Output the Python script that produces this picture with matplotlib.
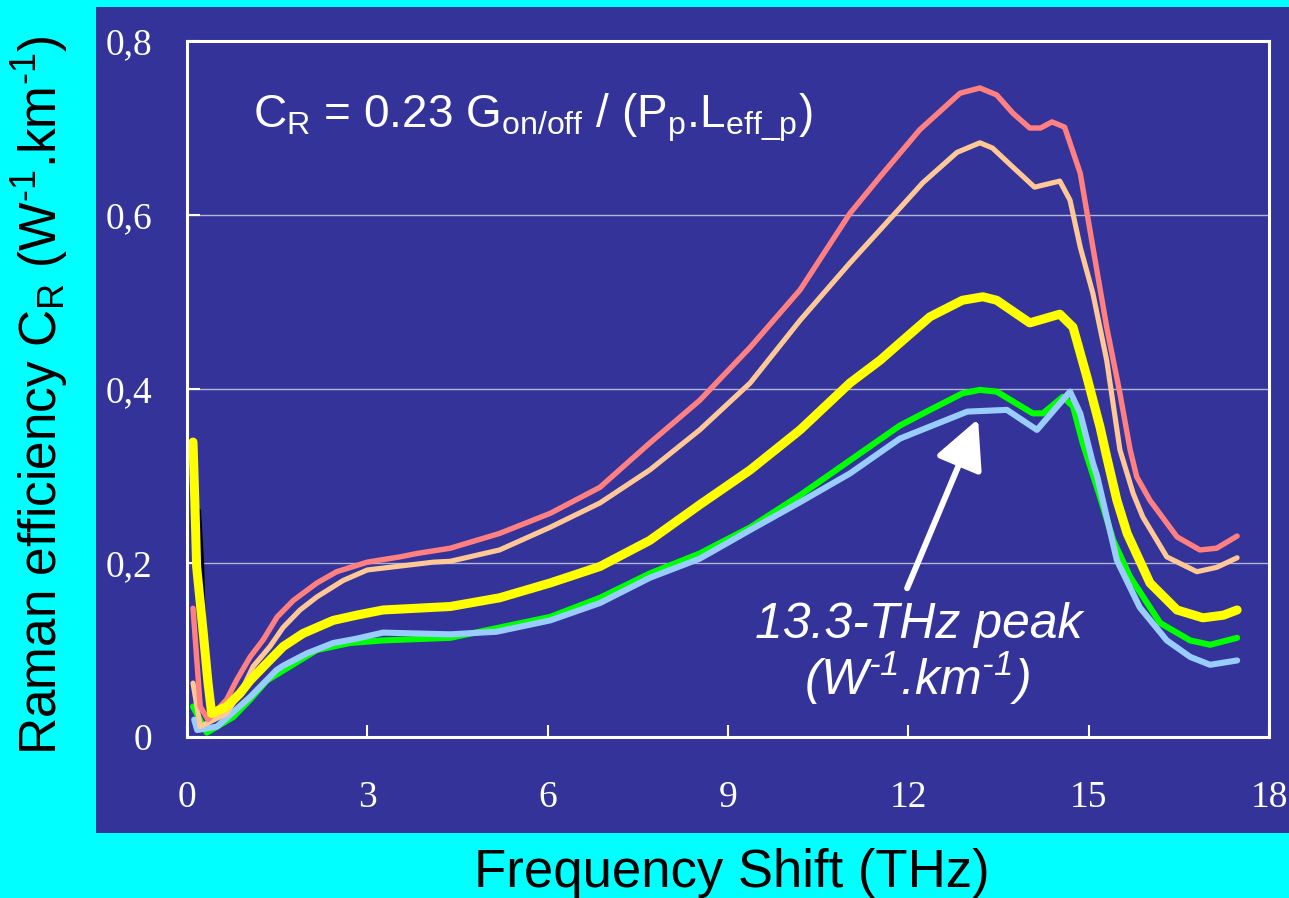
import matplotlib
matplotlib.use('Agg')
import matplotlib.pyplot as plt
from matplotlib.patches import Rectangle

plt.rcParams['font.family'] = ['Liberation Sans', 'DejaVu Sans']
plt.rcParams['mathtext.fontset'] = 'custom'
plt.rcParams['mathtext.rm'] = 'Liberation Sans'
plt.rcParams['mathtext.it'] = 'Liberation Sans:italic'

# valeurs (THz, W-1.km-1)
red_x = [0.10, 0.22, 0.35, 0.66, 0.83, 1.05, 1.27, 1.50, 1.77, 2.16, 2.49, 3.00, 3.54, 3.83,
         4.38, 5.20, 6.04, 6.87, 7.70, 8.53, 9.37, 10.20, 11.03, 11.53, 12.19, 12.86, 13.19,
         13.47, 13.74, 14.02, 14.20, 14.39, 14.60, 14.86, 15.07, 15.30, 15.52, 15.69, 15.80,
         16.02, 16.47, 16.85, 17.13, 17.47]
red_y = [0.148, 0.035, 0.020, 0.043, 0.066, 0.092, 0.112, 0.138, 0.157, 0.177, 0.190, 0.201,
         0.207, 0.211, 0.217, 0.234, 0.257, 0.287, 0.338, 0.387, 0.448, 0.514, 0.602, 0.644,
         0.698, 0.740, 0.746, 0.738, 0.717, 0.700, 0.700, 0.707, 0.701, 0.648, 0.563, 0.471,
         0.395, 0.330, 0.299, 0.272, 0.230, 0.215, 0.217, 0.231]

orange_x = [0.10, 0.22, 0.66, 0.94, 1.10, 1.38, 1.60, 1.88, 2.16, 2.60, 3.00, 4.10, 4.38, 5.20,
            6.04, 6.87, 7.70, 8.53, 9.37, 10.20, 11.03, 11.86, 12.24, 12.81, 13.19, 13.40,
            13.74, 14.10, 14.52, 14.69, 14.86, 15.07, 15.30, 15.52, 15.74, 15.90, 16.30, 16.80,
            17.13, 17.47]
orange_y = [0.062, 0.012, 0.027, 0.058, 0.081, 0.104, 0.126, 0.146, 0.161, 0.180, 0.192, 0.201,
            0.202, 0.215, 0.241, 0.269, 0.307, 0.353, 0.407, 0.479, 0.545, 0.608, 0.637, 0.672,
            0.683, 0.677, 0.655, 0.632, 0.639, 0.617, 0.563, 0.510, 0.433, 0.330, 0.280, 0.253,
            0.207, 0.190, 0.195, 0.206]

yellow_x = [0.10, 0.13, 0.16, 0.27, 0.35, 0.41, 0.66, 0.88, 1.05, 1.33, 1.60, 1.93, 2.43, 2.82,
            3.26, 4.38, 5.20, 6.04, 6.87, 7.70, 8.53, 9.37, 10.20, 11.03, 11.53, 11.86, 12.36,
            12.90, 13.24, 13.47, 14.02, 14.52, 14.74, 14.97, 15.19, 15.30, 15.47, 15.64, 16.02,
            16.47, 16.90, 17.24, 17.47]
yellow_y = [0.339, 0.272, 0.196, 0.120, 0.062, 0.027, 0.035, 0.050, 0.065, 0.085, 0.104, 0.119,
            0.134, 0.140, 0.146, 0.150, 0.160, 0.177, 0.196, 0.226, 0.267, 0.307, 0.353, 0.407,
            0.433, 0.453, 0.483, 0.502, 0.506, 0.502, 0.476, 0.486, 0.471, 0.414, 0.356, 0.322,
            0.272, 0.234, 0.177, 0.146, 0.137, 0.140, 0.146]

green_x = [0.10, 0.33, 0.77, 1.05, 1.33, 1.71, 2.16, 2.71, 3.26, 4.38, 6.04, 6.87, 7.70, 8.53,
           9.37, 10.20, 11.03, 11.86, 12.36, 12.90, 13.19, 13.47, 14.07, 14.24, 14.57, 14.74,
           14.90, 15.17, 15.41, 15.69, 16.19, 16.69, 17.02, 17.47]
green_y = [0.035, 0.005, 0.023, 0.043, 0.065, 0.081, 0.100, 0.108, 0.111, 0.114, 0.138, 0.160,
           0.188, 0.211, 0.241, 0.278, 0.318, 0.358, 0.376, 0.395, 0.399, 0.397, 0.372, 0.372,
           0.391, 0.380, 0.338, 0.280, 0.226, 0.184, 0.131, 0.111, 0.106, 0.114]

blue_x = [0.12, 0.17, 0.50, 1.05, 1.49, 1.60, 1.99, 2.43, 2.82, 3.26, 4.38, 5.15, 6.04, 6.87,
          7.70, 8.53, 9.37, 10.20, 11.03, 11.86, 12.98, 13.64, 14.14, 14.69, 14.86, 15.07,
          15.14, 15.30, 15.47, 15.85, 16.30, 16.69, 17.02, 17.47]
blue_y = [0.020, 0.008, 0.012, 0.046, 0.077, 0.082, 0.096, 0.108, 0.113, 0.120, 0.118, 0.121,
          0.134, 0.154, 0.183, 0.205, 0.238, 0.270, 0.303, 0.343, 0.374, 0.376, 0.353, 0.397,
          0.372, 0.315, 0.300, 0.253, 0.203, 0.149, 0.111, 0.092, 0.083, 0.088]

black_x = [0.20, 0.25, 0.27, 0.32, 0.40]
black_y = [0.26, 0.20, 0.15, 0.09, 0.04]

xticks = [0, 3, 6, 9, 12, 15, 18]
yticks = [0, 0.2, 0.4, 0.6, 0.8]
ytick_labels = ['0', '0,2', '0,4', '0,6', '0,8']

fig = plt.figure(figsize=(12.89, 8.98), dpi=100, facecolor='#00FFFF')
fig.patches.append(Rectangle((96 / 1289, 65 / 898), 1193 / 1289, 826 / 898,
                             transform=fig.transFigure, facecolor='#333399',
                             edgecolor='none', zorder=-10))

ax = fig.add_axes([187 / 1289, 161 / 898, 1082 / 1289, 696 / 898])
ax.set_zorder(1)
ax.set_facecolor('#333399')
ax.set_xlim(0, 18)
ax.set_ylim(0, 0.8)

ax.yaxis.grid(True, color='#B4B4D6', lw=1)
ax.set_axisbelow(True)

ax.plot(black_x, black_y, color='black', lw=3, solid_capstyle='round')
ax.plot(green_x, green_y, color='#00FF00', lw=4.4, solid_capstyle='round', solid_joinstyle='round')
ax.plot(blue_x, blue_y, color='#99CCFF', lw=4.4, solid_capstyle='round', solid_joinstyle='round')
ax.plot(orange_x, orange_y, color='#FFC896', lw=3.7, solid_capstyle='round', solid_joinstyle='round')
ax.plot(red_x, red_y, color='#FF8080', lw=3.9, solid_capstyle='round', solid_joinstyle='round')
ax.plot(yellow_x, yellow_y, color='#FFFF00', lw=6.5, solid_capstyle='round', solid_joinstyle='round')

for s in ax.spines.values():
    s.set_color('white')
    s.set_linewidth(2.2)

ax.set_xticks(xticks)
ax.set_xticklabels([str(t) for t in xticks])
ax.set_yticks(yticks)
ax.set_yticklabels(ytick_labels)
ax.tick_params(axis='both', direction='in', length=9, width=1.5, color='white',
               labelcolor='white', labelsize=27)
ax.tick_params(axis='x', pad=31)
ax.tick_params(axis='y', pad=25)
for lab in ax.get_xticklabels() + ax.get_yticklabels():
    lab.set_fontfamily('Liberation Serif')

# fleche vers le pic
ax.annotate('', xy=(13.16, 0.3655), xytext=(11.98, 0.171),
            arrowprops=dict(arrowstyle='-|>,head_length=1.5,head_width=0.75',
                            color='white', lw=4.3, mutation_scale=20,
                            shrinkA=0, shrinkB=0, capstyle='round'))

sup = '$^\\mathregular{\u2010' + '1}$'

fig.text(253 / 1289, 1 - 127 / 898,
         r'C$_\mathregular{R}$ = 0.23 G$_\mathregular{on/off}$ / (P$_\mathregular{p}$.L$_\mathregular{eff\_p}$)',
         color='white', fontsize=33, ha='left', va='baseline', zorder=5)

fig.text(919 / 1289, 1 - 638 / 898, '13.3-THz peak', color='white', fontsize=36,
         style='italic', ha='center', va='baseline', zorder=5)
fig.text(917 / 1289, 1 - 695 / 898, '(W' + sup + '.km' + sup + ')',
         color='white', fontsize=36, style='italic', ha='center', va='baseline', zorder=5)

fig.text(732 / 1289, 1 - 887 / 898, 'Frequency Shift (THz)', color='black',
         fontsize=38, ha='center', va='baseline')
fig.text(57 / 1289, 1 - 395 / 898,
         'Raman efficiency C$_\\mathregular{R}$ (W' + sup + '.km' + sup + ')',
         color='black', fontsize=37, rotation=90, rotation_mode='anchor',
         ha='center', va='baseline')

fig.savefig('out.png', dpi=100, facecolor=fig.get_facecolor())
